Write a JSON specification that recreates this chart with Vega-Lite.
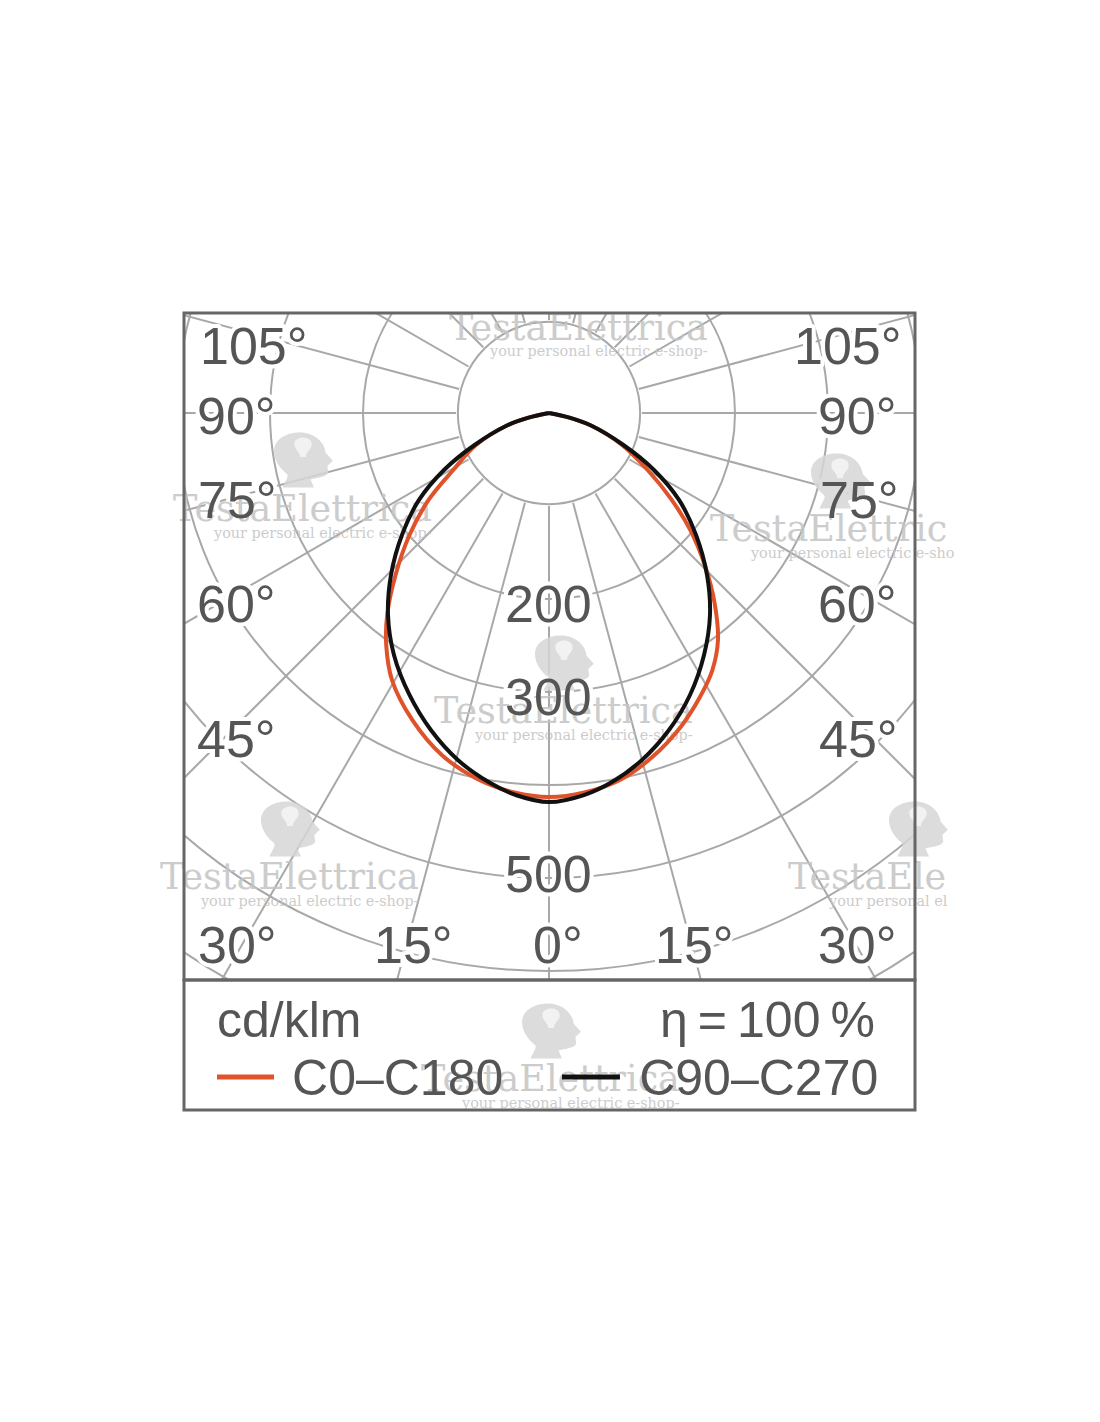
{"$schema":"https://vega.github.io/schema/vega-lite/v6.json","width":731,"height":667,"autosize":{"type":"none"},"padding":{"left":184,"top":313,"right":185,"bottom":442},"background":"white","view":{"stroke":null},
"datasets":{
"rings":[{"r":98,"x":0,"y":0},{"r":200,"x":0,"y":0},{"r":300,"x":0,"y":0},{"r":400,"x":0,"y":0},{"r":500,"x":0,"y":0},{"r":600,"x":0,"y":0},{"r":700,"x":0,"y":0}],
"spokes":[{"a":0,"x":0,"y":100,"x2":0,"y2":1000},{"a":15,"x":25.9,"y":96.6,"x2":258.8,"y2":965.9},{"a":-15,"x":-25.9,"y":96.6,"x2":-258.8,"y2":965.9},{"a":30,"x":50,"y":86.6,"x2":500,"y2":866},{"a":-30,"x":-50,"y":86.6,"x2":-500,"y2":866},{"a":45,"x":70.7,"y":70.7,"x2":707.1,"y2":707.1},{"a":-45,"x":-70.7,"y":70.7,"x2":-707.1,"y2":707.1},{"a":60,"x":86.6,"y":50,"x2":866,"y2":500},{"a":-60,"x":-86.6,"y":50,"x2":-866,"y2":500},{"a":75,"x":96.6,"y":25.9,"x2":965.9,"y2":258.8},{"a":-75,"x":-96.6,"y":25.9,"x2":-965.9,"y2":258.8},{"a":90,"x":100,"y":0,"x2":1000,"y2":0},{"a":-90,"x":-100,"y":0,"x2":-1000,"y2":0},{"a":105,"x":96.6,"y":-25.9,"x2":965.9,"y2":-258.8},{"a":-105,"x":-96.6,"y":-25.9,"x2":-965.9,"y2":-258.8},{"a":120,"x":86.6,"y":-50,"x2":866,"y2":-500},{"a":-120,"x":-86.6,"y":-50,"x2":-866,"y2":-500},{"a":135,"x":70.7,"y":-70.7,"x2":707.1,"y2":-707.1},{"a":-135,"x":-70.7,"y":-70.7,"x2":-707.1,"y2":-707.1},{"a":150,"x":50,"y":-86.6,"x2":500,"y2":-866},{"a":-150,"x":-50,"y":-86.6,"x2":-500,"y2":-866},{"a":165,"x":25.9,"y":-96.6,"x2":258.8,"y2":-965.9},{"a":-165,"x":-25.9,"y":-96.6,"x2":-258.8,"y2":-965.9},{"a":180,"x":0,"y":-100,"x2":0,"y2":-1000}],
"labels":[{"t":"105°","x":-375.3,"y":-52.7},{"t":"90°","x":-378.5,"y":22.6},{"t":"75°","x":-377.4,"y":112.9},{"t":"60°","x":-378.5,"y":224.7},{"t":"45°","x":-378.5,"y":369.9},{"t":"30°","x":-377.4,"y":591.4},{"t":"15°","x":-188.2,"y":591.4},{"t":"0°","x":-17.2,"y":591.4},{"t":"15°","x":114.0,"y":591.4},{"t":"30°","x":289.2,"y":591.4},{"t":"45°","x":290.3,"y":369.9},{"t":"60°","x":289.2,"y":224.7},{"t":"75°","x":291.4,"y":112.9},{"t":"90°","x":289.2,"y":22.6},{"t":"105°","x":263.4,"y":-52.7},{"t":"200","x":-47.3,"y":224.7},{"t":"300","x":-47.3,"y":324.7},{"t":"500","x":-47.3,"y":515.1}],
"legendText":[{"t":"cd/klm","x":-357.0,"y":671.0},{"t":"η\u2009=\u2009100\u2009%","x":119.4,"y":671.0},{"t":"C0–C180","x":-276.3,"y":733.3},{"t":"C90–C270","x":97,"y":733.3}],
"legendKeys":[{"series":"C0-C180","x":-357,"x2":-295.7,"y":714},{"series":"C90-C270","x":14,"x2":76.3,"y":714}],
"heads":[{"x":-264.5,"y":50.5},{"x":312.9,"y":73.1},{"x":16.1,"y":268.8},{"x":-278.5,"y":447.3},{"x":396.8,"y":447.3},{"x":2.2,"y":664.5}],
"wmMain":[{"t":"TestaElettrica","x":-107.5,"y":-78.5},{"t":"TestaElettrica","x":-404.3,"y":116.1},{"t":"TestaElettric","x":173.1,"y":137.6},{"t":"TestaElettrica","x":-123.7,"y":333.3},{"t":"TestaElettrica","x":-418.3,"y":511.8},{"t":"TestaEle","x":257.0,"y":511.8},{"t":"TestaElettrica","x":-137.6,"y":729.0}],
"wmSub":[{"t":"your personal electric e-shop-","x":-63.4,"y":-61.3},{"t":"your personal electric e-shop-","x":-360.2,"y":134.4},{"t":"your personal electric e-sho","x":217.2,"y":155.9},{"t":"your personal electric e-shop-","x":-79.6,"y":351.6},{"t":"your personal electric e-shop-","x":-374.2,"y":530.1},{"t":"your personal el","x":301.1,"y":530.1},{"t":"your personal electric e-shop-","x":-93.5,"y":747.3}],
"frame":[{"x":-392.47,"x2":393.55,"y":-107.53,"y2":609.68},{"x":-392.47,"x2":393.55,"y":609.68,"y2":749.46}],
"curves":[
{"series":"C0-C180","i":0,"x":0,"y":0},{"series":"C0-C180","i":1,"x":-22,"y":5},{"series":"C0-C180","i":2,"x":-45.2,"y":13.5},{"series":"C0-C180","i":3,"x":-78.5,"y":34.4},{"series":"C0-C180","i":4,"x":-103,"y":61.3},{"series":"C0-C180","i":5,"x":-129.5,"y":93.5},{"series":"C0-C180","i":6,"x":-150,"y":131.2},{"series":"C0-C180","i":7,"x":-165,"y":174.2},{"series":"C0-C180","i":8,"x":-174,"y":217.2},{"series":"C0-C180","i":9,"x":-175,"y":250},{"series":"C0-C180","i":10,"x":-168.8,"y":287.1},{"series":"C0-C180","i":11,"x":-147,"y":330},{"series":"C0-C180","i":12,"x":-115,"y":368},{"series":"C0-C180","i":13,"x":-76,"y":394},{"series":"C0-C180","i":14,"x":-37,"y":408},{"series":"C0-C180","i":15,"x":0,"y":412.9},{"series":"C0-C180","i":16,"x":38,"y":408},{"series":"C0-C180","i":17,"x":76.3,"y":394.6},{"series":"C0-C180","i":18,"x":111,"y":370},{"series":"C0-C180","i":19,"x":142,"y":337},{"series":"C0-C180","i":20,"x":162,"y":306},{"series":"C0-C180","i":21,"x":175.5,"y":277},{"series":"C0-C180","i":22,"x":181.7,"y":244.1},{"series":"C0-C180","i":23,"x":178,"y":204},{"series":"C0-C180","i":24,"x":168,"y":165},{"series":"C0-C180","i":25,"x":152,"y":126},{"series":"C0-C180","i":26,"x":131,"y":92},{"series":"C0-C180","i":27,"x":106,"y":61.3},{"series":"C0-C180","i":28,"x":78.5,"y":34.4},{"series":"C0-C180","i":29,"x":45.2,"y":13.5},{"series":"C0-C180","i":30,"x":22,"y":5},{"series":"C0-C180","i":31,"x":0,"y":0},
{"series":"C90-C270","i":0,"x":0,"y":0},{"series":"C90-C270","i":1,"x":-22,"y":5},{"series":"C90-C270","i":2,"x":-45.2,"y":13.5},{"series":"C90-C270","i":3,"x":-80,"y":34.4},{"series":"C90-C270","i":4,"x":-112.9,"y":61.3},{"series":"C90-C270","i":5,"x":-139.8,"y":93.5},{"series":"C90-C270","i":6,"x":-158.1,"y":131.2},{"series":"C90-C270","i":7,"x":-169.9,"y":174.2},{"series":"C90-C270","i":8,"x":-173.1,"y":217.2},{"series":"C90-C270","i":9,"x":-166.7,"y":260.2},{"series":"C90-C270","i":10,"x":-150,"y":303.2},{"series":"C90-C270","i":11,"x":-127,"y":340.9},{"series":"C90-C270","i":12,"x":-98,"y":373.1},{"series":"C90-C270","i":13,"x":-65,"y":396.8},{"series":"C90-C270","i":14,"x":-35,"y":411},{"series":"C90-C270","i":15,"x":0,"y":418.3},{"series":"C90-C270","i":16,"x":37.6,"y":410.8},{"series":"C90-C270","i":17,"x":67.7,"y":396.8},{"series":"C90-C270","i":18,"x":100,"y":373.1},{"series":"C90-C270","i":19,"x":129,"y":340.9},{"series":"C90-C270","i":20,"x":151.6,"y":303.2},{"series":"C90-C270","i":21,"x":166.7,"y":260.2},{"series":"C90-C270","i":22,"x":173.1,"y":217.2},{"series":"C90-C270","i":23,"x":169.9,"y":174.2},{"series":"C90-C270","i":24,"x":158.1,"y":131.2},{"series":"C90-C270","i":25,"x":139.8,"y":93.5},{"series":"C90-C270","i":26,"x":112.9,"y":61.3},{"series":"C90-C270","i":27,"x":80,"y":34.4},{"series":"C90-C270","i":28,"x":45.2,"y":13.5},{"series":"C90-C270","i":29,"x":22,"y":5},{"series":"C90-C270","i":30,"x":0,"y":0}]
},
"encoding":{"x":{"field":"x","type":"quantitative","axis":null,"scale":{"domain":[-392.47,393.55],"nice":false,"zero":false}},"y":{"field":"y","type":"quantitative","axis":null,"scale":{"domain":[-107.53,609.68],"nice":false,"zero":false,"reverse":true}}},
"layer":[
{"data":{"name":"rings"},"mark":{"type":"point","filled":false,"clip":true,"stroke":"#a8a8a8","strokeWidth":2,"opacity":1},"encoding":{"size":{"field":"r","type":"quantitative","legend":null,"scale":{"type":"pow","exponent":2,"domain":[0,700],"range":[0,1695204]}}}},
{"data":{"name":"spokes"},"mark":{"type":"rule","clip":true,"stroke":"#a8a8a8","strokeWidth":2},"encoding":{"x2":{"field":"x2"},"y2":{"field":"y2"}}},
{"data":{"name":"labels"},"mark":{"type":"text","align":"left","baseline":"alphabetic","font":"Liberation Sans","fontSize":52,"fill":"white","stroke":"white","strokeWidth":8,"strokeJoin":"round"},"encoding":{"text":{"field":"t"}}},
{"data":{"name":"heads"},"mark":{"type":"point","filled":true,"size":3364,"color":"#d6d6d6","opacity":0.85,"shape":"M-.71 .95 C-.6 .7 -.5 .6 -.54 .49 C-.8 .3 -1 0 -1 -.31 C-1 -.7 -.6 -.95 -.1 -.95 C.4 -.95 .75 -.6 .78 -.25 L1.03 .03 L.84 .21 L.87 .44 C.8 .6 .5 .6 .26 .67 L.38 .95 Z"}},
{"data":{"name":"heads"},"mark":{"type":"point","filled":true,"size":3364,"color":"#f2f2f2","opacity":1,"shape":"M-.3 -.55 C-.3 -.85 .3 -.85 .3 -.55 C.3 -.35 .1 -.3 .1 -.1 L-.1 -.1 C-.1 -.3 -.3 -.35 -.3 -.55 Z"}},
{"data":{"name":"wmMain"},"mark":{"type":"text","align":"left","baseline":"alphabetic","font":"DejaVu Serif","fontSize":36.5,"fill":"#c4c4c4","opacity":0.85},"encoding":{"text":{"field":"t"}}},
{"data":{"name":"wmSub"},"mark":{"type":"text","align":"left","baseline":"alphabetic","font":"DejaVu Serif","fontSize":14.4,"fill":"#c4c4c4","opacity":0.85},"encoding":{"text":{"field":"t"}}},
{"data":{"name":"labels"},"mark":{"type":"text","align":"left","baseline":"alphabetic","font":"Liberation Sans","fontSize":52,"fill":"#555555"},"encoding":{"text":{"field":"t"}}},
{"data":{"name":"legendText"},"mark":{"type":"text","align":"left","baseline":"alphabetic","font":"Liberation Sans","fontSize":50,"fill":"#555555"},"encoding":{"text":{"field":"t"}}},
{"data":{"name":"curves"},"mark":{"type":"line","interpolate":"catmull-rom","strokeWidth":4,"clip":true},"encoding":{"order":{"field":"i","type":"quantitative"},"color":{"field":"series","type":"nominal","legend":null,"scale":{"domain":["C0-C180","C90-C270"],"range":["#e0532a","#111111"]}}}},
{"data":{"name":"legendKeys"},"mark":{"type":"rule","strokeWidth":5},"encoding":{"x2":{"field":"x2"},"color":{"field":"series","type":"nominal","legend":null,"scale":{"domain":["C0-C180","C90-C270"],"range":["#e0532a","#111111"]}}}},
{"data":{"name":"frame"},"mark":{"type":"rect","fill":null,"fillOpacity":0,"stroke":"#666666","strokeWidth":3},"encoding":{"x2":{"field":"x2"},"y2":{"field":"y2"}}}
]}
